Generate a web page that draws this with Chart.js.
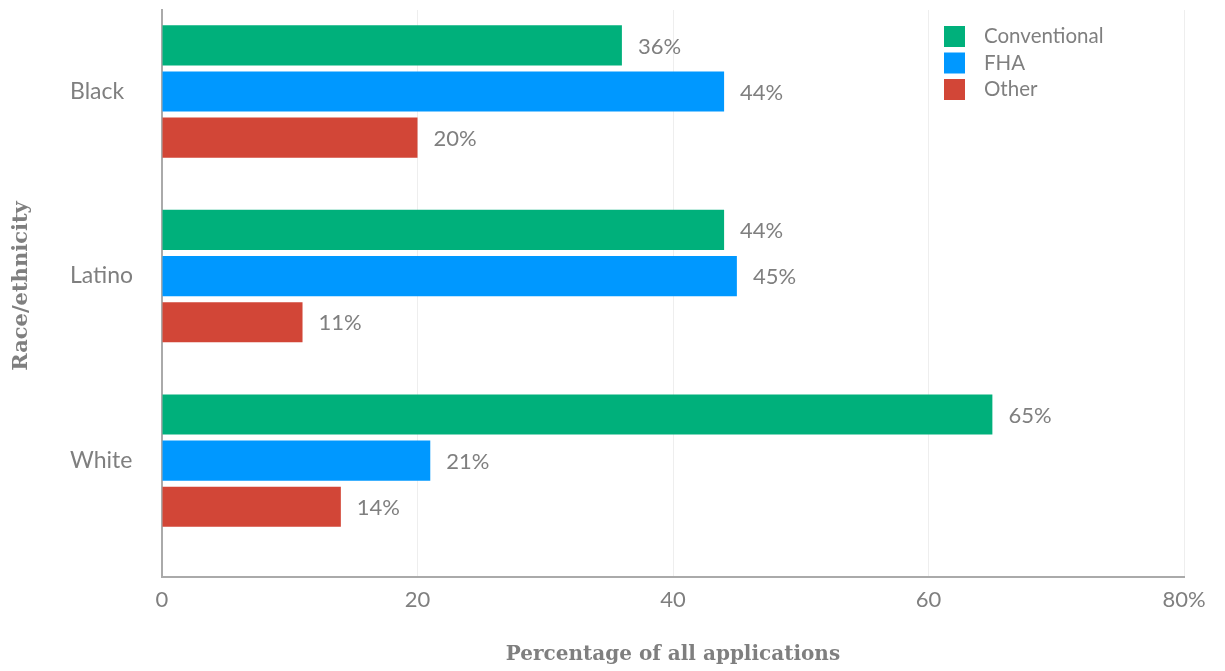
<!DOCTYPE html>
<html>
<head>
<meta charset="utf-8">
<script src="https://cdn.jsdelivr.net/npm/chart.js@4/dist/chart.umd.min.js"></script>
<style>
html, body { margin: 0; padding: 0; background: #fff; }
#wrap { width: 1225px; height: 671px; }
</style>
</head>
<body>
<div id="wrap"><canvas id="chart"></canvas></div>
<script>
// data
const groups = ["Black", "Latino", "White"];
const seriesNames = ["Conventional", "FHA", "Other"];
const conventional = [36, 44, 65];
const fha = [44, 45, 21];
const other = [20, 11, 14];
const xTicks = [0, 20, 40, 60, 80];

const colors = ["#00b07b", "#0098ff", "#d24637"];
const grey = "#7f7f7f";
const sansFont = "Lato, 'Open Sans', sans-serif";
const serifFont = "'DejaVu Serif', serif";

function toPoints(values) {
    return values.map((v, i) => ({ x: v, y: i }));
}

const allSeries = [conventional, fha, other];
const datasets = allSeries.map((values, i) => ({
    label: seriesNames[i],
    data: toPoints(values),
    backgroundColor: colors[i],
    borderWidth: 0,
    categoryPercentage: 0.75,
    barPercentage: 0.87
}));

// value labels right of each bar
const valueLabels = {
    id: 'valueLabels',
    afterDatasetsDraw(chart) {
        const ctx = chart.ctx;
        ctx.save();
        ctx.font = "22px " + sansFont;
        ctx.fillStyle = grey;
        ctx.textAlign = 'left';
        ctx.textBaseline = 'middle';
        chart.data.datasets.forEach((ds, di) => {
            const meta = chart.getDatasetMeta(di);
            meta.data.forEach((bar, i) => {
                ctx.fillText(allSeries[di][i] + "%", bar.x + 16, bar.y + 1);
            });
        });
        ctx.restore();
    }
};

// vertical legend top right + y axis title
const extras = {
    id: 'extras',
    afterDraw(chart) {
        const ctx = chart.ctx;
        ctx.save();
        ctx.font = "20.5px " + sansFont;
        ctx.textBaseline = 'middle';
        ctx.textAlign = 'left';
        seriesNames.forEach((name, i) => {
            const top = 26 + i * 26.5;
            ctx.fillStyle = colors[i];
            ctx.fillRect(944, top, 21, 21);
            ctx.fillStyle = grey;
            ctx.fillText(name, 984, top + 10.5);
        });

        ctx.translate(22, 286);
        ctx.rotate(-Math.PI / 2);
        ctx.font = "bold 21px " + serifFont;
        ctx.textAlign = 'center';
        ctx.fillText("Race/ethnicity", 0, 0);
        ctx.restore();
    }
};

const ctx = document.getElementById('chart').getContext('2d');
const myChart = new Chart(ctx, {
    type: 'bar',
    data: { datasets: datasets },
    options: {
        indexAxis: 'y',
        responsive: true,
        maintainAspectRatio: false,
        animation: false,
        layout: {
            padding: { left: 70, right: 41, top: 10, bottom: 0 }
        },
        plugins: {
            legend: { display: false },
            tooltip: { enabled: false }
        },
        scales: {
            x: {
                type: 'linear',
                min: 0,
                max: 80,
                afterBuildTicks: scale => {
                    scale.ticks = xTicks.map(v => ({ value: v }));
                },
                afterFit: scale => { scale.height = 94; },
                ticks: {
                    color: grey,
                    font: { family: sansFont, size: 22 },
                    padding: 10,
                    maxRotation: 0,
                    callback: v => v === 80 ? "80%" : String(v)
                },
                grid: {
                    color: "#eeeeee",
                    drawTicks: false
                },
                border: { color: "#aaaaaa", width: 2 },
                title: {
                    display: true,
                    text: "Percentage of all applications",
                    color: grey,
                    font: { family: serifFont, size: 20, weight: 'bold' },
                    padding: { top: 0, bottom: 4 }
                }
            },
            y: {
                type: 'linear',
                reverse: true,
                offset: false,
                min: -0.442,
                max: 2.631,
                afterBuildTicks: scale => {
                    scale.ticks = groups.map((g, i) => ({ value: i }));
                },
                afterFit: scale => {
                    scale.width = 92;
                    scale.paddingTop = 0;
                    scale.paddingBottom = 0;
                },
                ticks: {
                    color: grey,
                    font: { family: sansFont, size: 23 },
                    crossAlign: 'far',
                    callback: v => groups[v]
                },
                grid: { display: false },
                border: { color: "#aaaaaa", width: 2 }
            }
        }
    },
    plugins: [valueLabels, extras]
});
</script>
</body>
</html>
